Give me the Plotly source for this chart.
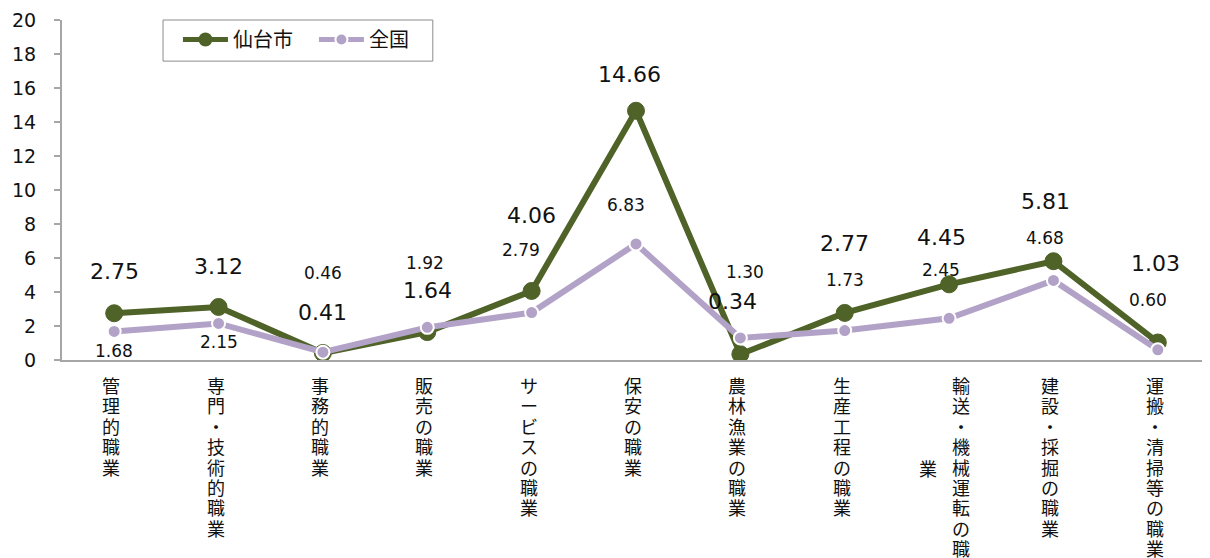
import plotly.graph_objects as go

categories = ["管理的職業", "専門・技術的職業", "事務的職業", "販売の職業", "サービスの職業", "保安の職業",
              "農林漁業の職業", "生産工程の職業", "輸送・機械運転の職業", "建設・採掘の職業", "運搬・清掃等の職業"]
sendai = [2.75, 3.12, 0.41, 1.64, 4.06, 14.66, 0.34, 2.77, 4.45, 5.81, 1.03]
zenkoku = [1.68, 2.15, 0.46, 1.92, 2.79, 6.83, 1.30, 1.73, 2.45, 4.68, 0.60]
y_ticks = [0, 2, 4, 6, 8, 10, 12, 14, 16, 18, 20]

# label pixel offsets (dx, dy; dy positive = up)
sendai_off = [(0, 42), (0, 40), (0, 41), (0, 42), (0, 75), (-7, 36), (-8, 53), (0, 69), (-8, 47), (-8, 60), (-2, 79)]
zenkoku_off = [(0, -20), (0, -19), (0, 79), (-2, 64), (-11, 63), (-10, 39), (5, 66), (0, 51), (-8, 48), (-8, 42), (-10, 50)]

GREEN = "#4F6228"
PURPLE = "#B3A2C7"
FONT = "DejaVu Sans, Noto Sans CJK JP"
JFONT = "Noto Sans CJK JP"

xs = list(range(len(categories)))
fig = go.Figure()
fig.add_trace(go.Scatter(x=xs, y=sendai, name="仙台市", mode="lines+markers",
                         line=dict(color=GREEN, width=6),
                         marker=dict(size=17, color=GREEN, line=dict(color=GREEN, width=1))))
fig.add_trace(go.Scatter(x=xs, y=zenkoku, name="全国", mode="lines+markers",
                         line=dict(color=PURPLE, width=6),
                         marker=dict(size=13, color=PURPLE, line=dict(color="white", width=2))))

anns = []
for i, v in enumerate(sendai):
    dx, dy = sendai_off[i]
    anns.append(dict(x=i, y=v, xref="x", yref="y", text=f"{v:.2f}", showarrow=False,
                     xshift=dx, yshift=dy, font=dict(size=22, color="#111111", family=FONT)))
for i, v in enumerate(zenkoku):
    dx, dy = zenkoku_off[i]
    anns.append(dict(x=i, y=v, xref="x", yref="y", text=f"{v:.2f}", showarrow=False,
                     xshift=dx, yshift=dy, font=dict(size=17, color="#111111", family=FONT)))

# vertical category labels, one character per annotation
STEP = 20.4
TOP = 25
def add_column(i, chars, xshift, start):
    for k, ch in enumerate(chars):
        anns.append(dict(x=i, y=0, xref="x", yref="paper", text=ch, showarrow=False,
                         yanchor="middle", xanchor="center", xshift=xshift,
                         yshift=-(start + k * STEP), height=20, valign="middle",
                         font=dict(size=18, color="#111111", family=JFONT)))

for i, c in enumerate(categories):
    if c == "輸送・機械運転の職業":
        add_column(i, c[:-1], 12, TOP)
        add_column(i, c[-1], -21, 108)
    else:
        add_column(i, c, -3, TOP)

shapes = [dict(type="rect", xref="paper", yref="paper", x0=0.088, x1=0.323, y0=0.879, y1=1.0,
               line=dict(color="#8c8c8c", width=1), fillcolor="rgba(0,0,0,0)", layer="above")]

fig.update_layout(
    width=1202, height=550,
    margin=dict(l=54, r=0, t=12, b=198),
    paper_bgcolor="white", plot_bgcolor="white",
    font=dict(family=FONT, size=17, color="#111111"),
    showlegend=True,
    legend=dict(orientation="h", x=0.101, y=1.0, xanchor="left", yanchor="top",
                borderwidth=0, bgcolor="rgba(0,0,0,0)", itemsizing="constant",
                font=dict(size=20, family=JFONT), itemwidth=45, entrywidth=76),
    annotations=anns,
    shapes=shapes,
    xaxis=dict(range=[-0.5, 10.5], showticklabels=False, showgrid=False, zeroline=False,
               showline=True, linecolor="#a6a6a6", linewidth=2, ticks=""),
    yaxis=dict(range=[0, 20], tickvals=y_ticks, showgrid=False, zeroline=False,
               showline=True, linecolor="#a6a6a6", linewidth=2, ticks="outside",
               ticklen=6, tickcolor="#a6a6a6", tickwidth=2, tickfont=dict(size=19),
               ticklabelstandoff=14),
)

fig.write_html("out.html")
